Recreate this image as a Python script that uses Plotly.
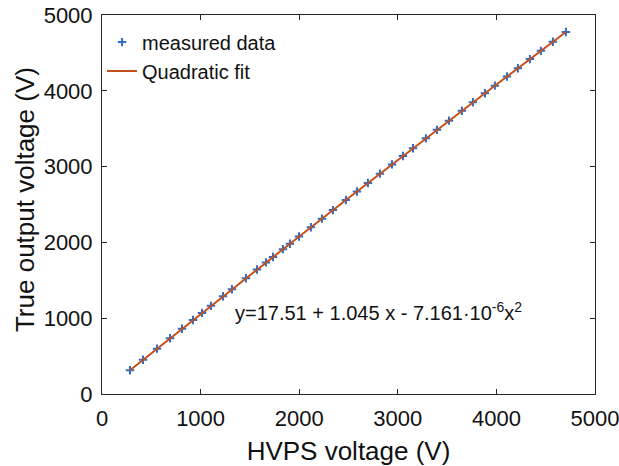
import plotly.graph_objects as go

# measured points (HVPS setting vs. true output)
hvps_v = [284, 416, 558, 690, 811, 923, 1014, 1105, 1227, 1318, 1460, 1572, 1663,
          1734, 1835, 1906, 1998, 2119, 2231, 2342, 2474, 2586, 2697, 2819, 2941,
          3052, 3154, 3285, 3397, 3519, 3650, 3762, 3884, 3985, 4107, 4218, 4340,
          4451, 4573, 4705]
true_v = [314, 451, 598, 735, 860, 976, 1070, 1163, 1289, 1382, 1528, 1643, 1736,
          1808, 1911, 1983, 2077, 2200, 2313, 2426, 2559, 2672, 2784, 2907, 3029,
          3140, 3242, 3373, 3485, 3606, 3736, 3848, 3968, 4068, 4189, 4298, 4418,
          4527, 4647, 4776]

# quadratic fit curve, sampled along the plotted line
fit_x = [284, 1000, 1500, 2000, 2500, 3000, 3500, 4000, 4705]
fit_y = [314, 1055, 1569, 2079, 2585, 3088, 3587, 4083, 4776]

fit_label = "y=17.51 + 1.045 x - 7.161·10<sup>-6</sup>x<sup>2</sup>"

font = "Liberation Sans, Arial, sans-serif"
axcol = "#262626"
txt = "#111"

fig = go.Figure()
fig.add_trace(go.Scatter(x=hvps_v, y=true_v, mode="markers", name="measured data",
                         marker=dict(symbol="cross-thin", size=6,
                                     line=dict(width=2, color="#2f6cc8"))))
fig.add_trace(go.Scatter(x=fit_x, y=fit_y, mode="lines", name="Quadratic fit",
                         line=dict(color="#c4501c", width=2)))

fig.add_annotation(x=1330, y=1082, text=fit_label, showarrow=False,
                   xanchor="left", yanchor="middle",
                   font=dict(family=font, size=20, color=txt))

# y title placed by hand so it sits as far left as in the original
fig.add_annotation(x=-0.156, y=0.512, xref="paper", yref="paper",
                   text="True output voltage (V)", textangle=-90, showarrow=False,
                   xanchor="center", yanchor="middle",
                   font=dict(family=font, size=26, color=txt))

axis = dict(showgrid=False, zeroline=False, showline=True, linecolor=axcol,
            linewidth=1, mirror="ticks", ticks="inside", ticklen=5,
            tickcolor=axcol, automargin=False, ticklabeloverflow="allow",
            tickfont=dict(family=font, size=22, color=txt))

fig.update_xaxes(range=[0, 5000], dtick=1000, ticklabelstandoff=5,
                 title=dict(text="HVPS voltage (V)", standoff=11,
                            font=dict(family=font, size=26, color=txt)), **axis)
fig.update_yaxes(range=[0, 5000], dtick=1000, ticklabelstandoff=4, **axis)

fig.update_layout(width=619, height=466, plot_bgcolor="white", paper_bgcolor="white",
                  margin=dict(l=102, r=24, t=15, b=72),
                  legend=dict(x=0.0, y=0.98, xanchor="left", yanchor="top",
                              bgcolor="rgba(0,0,0,0)",
                              font=dict(family=font, size=20, color=txt),
                              itemwidth=30, tracegroupgap=0))

# drop the page's default body margin so the figure fills the window
fig.write_html("out.html", config={"displayModeBar": False},
               post_script="document.body.style.margin='0';")
